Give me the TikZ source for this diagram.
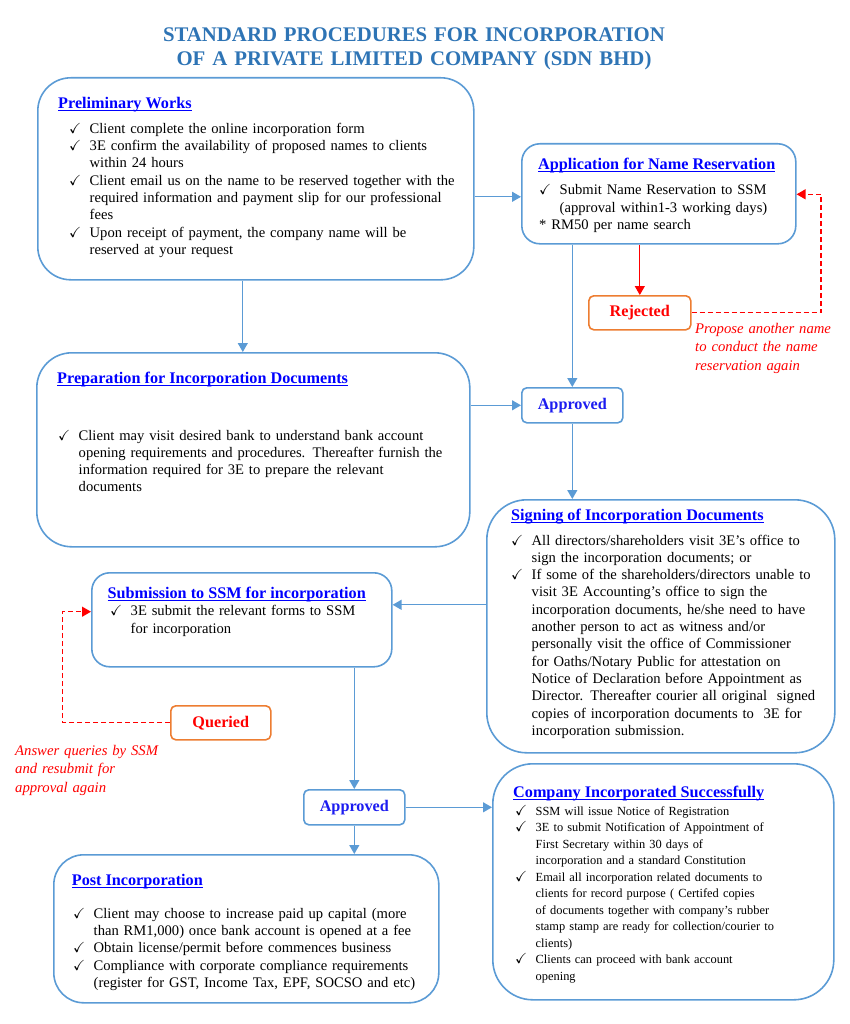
\documentclass[tikz,border=0pt]{standalone}
\usepackage{amssymb}
\usepackage{fontspec}
\setmainfont{Liberation Serif}
\usetikzlibrary{arrows.meta}

\definecolor{lineblue}{HTML}{5B9BD5}
\definecolor{titleblue}{HTML}{2E74B5}
\definecolor{linkblue}{HTML}{0000FF}
\definecolor{okblue}{HTML}{1C1CF0}
\definecolor{tagorange}{HTML}{ED7D31}
\definecolor{notered}{HTML}{FF0000}

\newcommand\chkitem[1]{\noindent\hangindent=20.5pt\hangafter=1\makebox[20.5pt][l]{\fontsize{14.6}{17}\selectfont$\checkmark$}#1\par}
\newcommand\boxhead[1]{\underline{\smash{#1}}}

\tikzset{
  stage/.style={draw=lineblue, line width=1.6pt, rounded corners=#1, anchor=north west, inner sep=0pt},
  stage/.default=30pt,
  tag/.style={draw=#1, line width=1.6pt, rounded corners=5pt, anchor=north west, inner sep=0pt,
    font=\fontsize{16.2}{19}\selectfont\bfseries},
  head/.style={anchor=base west, inner sep=0pt, text=linkblue, font=\fontsize{16.2}{19}\selectfont\bfseries},
  body/.style={anchor=base west, inner sep=0pt, align=left, text width=430pt, font=\fontsize{14.6}{17.3}\selectfont},
  note/.style={anchor=base west, inner sep=0pt, align=left, text width=200pt, text=notered,
    font=\fontsize{14.7}{18.5}\selectfont\itshape},
  flow/.style={draw=lineblue, line width=1.3pt, -{Triangle[length=9pt,width=10pt]}},
  fail/.style={draw=notered, line width=1.3pt, -{Triangle[length=9pt,width=10pt]}},
  retry/.style={fail, dash pattern=on 5pt off 3pt}
}

\begin{document}
\begin{tikzpicture}[x=1pt,y=-1pt]
\useasboundingbox (0,0) rectangle (849,1024);

\node[anchor=base, inner sep=0pt, align=center, text width=700pt, text=titleblue,
  font=\fontsize{20.8}{24}\selectfont\bfseries] (title) at (414,42)
  {STANDARD PROCEDURES FOR INCORPORATION\\OF A PRIVATE LIMITED COMPANY (SDN BHD)};

\node[stage=33pt, minimum width=436pt, minimum height=202pt] (prelim) at (37,77) {};
\node[stage=18pt, minimum width=274pt, minimum height=100pt] (app) at (521,143) {};
\node[tag=tagorange, text=notered, minimum width=102pt, minimum height=34pt] (rej) at (588,295) {Rejected};
\node[stage=35pt, minimum width=433pt, minimum height=194pt] (prep) at (36,352) {};
\node[tag=lineblue, text=okblue, minimum width=101pt, minimum height=35pt] (appr1) at (521,387) {Approved};
\node[stage=40pt, minimum width=348pt, minimum height=253pt] (sign) at (486,499) {};
\node[stage=18pt, minimum width=300pt, minimum height=94pt] (sub) at (91,572) {};
\node[tag=tagorange, text=notered, minimum width=100pt, minimum height=34pt] (que) at (170,705) {Queried};
\node[tag=lineblue, text=okblue, minimum width=101pt, minimum height=35pt] (appr2) at (303,789) {Approved};
\node[stage=40pt, minimum width=341pt, minimum height=236pt] (comp) at (492,763) {};
\node[stage=30pt, minimum width=385pt, minimum height=148pt] (post) at (53,854) {};

\node[head] (prelimhd) at (58,108.3) {\boxhead{Preliminary Works}};
\node[body] (prelimtxt) at (69,133.3) {\chkitem{Client complete the online incorporation form}
  \chkitem{3E confirm the availability of proposed names to clients\newline within 24 hours}
  \chkitem{Client email us on the name to be reserved together with the\newline required information and payment slip for our professional\newline fees}
  \chkitem{Upon receipt of payment, the company name will be\newline reserved at your request}};

\node[head] (apphd) at (538,169.3) {\boxhead{Application for Name Reservation}};
\node[body] (apptxt) at (539,195) {\chkitem{Submit Name Reservation to SSM\newline (approval within1-3 working days)}
  \noindent * RM50 per name search\par};
\node[note] (rejnote) at (695,333.3) {Propose another name\\to conduct the name\\reservation again};

\node[head] (prephd) at (57,383) {\boxhead{Preparation for Incorporation Documents}};
\node[body] (preptxt) at (58,440) {\chkitem{Client may visit desired bank to understand bank account\newline opening requirements and procedures. Thereafter furnish the\newline information required for 3E to prepare the relevant\newline documents}};

\node[head] (signhd) at (511,520) {\boxhead{Signing of Incorporation Documents}};
\node[body] (signtxt) at (511,545) {\chkitem{All directors/shareholders visit 3E's office to\newline sign the incorporation documents; or}
  \chkitem{If some of the shareholders/directors unable to\newline visit 3E Accounting’s office to sign the\newline incorporation documents, he/she need to have\newline another person to act as witness and/or\newline personally visit the office of Commissioner\newline for Oaths/Notary Public for attestation on\newline Notice of Declaration before Appointment as\newline Director. Thereafter courier all original\ \ signed\newline copies of incorporation documents to\ \ 3E for\newline incorporation submission.}};

\node[head] (subhd) at (107.3,598.3) {\boxhead{Submission to SSM for incorporation}};
\node[body] (subtxt) at (110,615.7) {\chkitem{3E submit the relevant forms to SSM\newline for incorporation}};
\node[note] (quenote) at (15,755) {Answer queries by SSM\\and resubmit for\\approval again};

\node[head] (comphd) at (513,797) {\boxhead{Company Incorporated Successfully}};
\node[body, font=\fontsize{12.4}{16.5}\selectfont] (comptxt) at (515,815) {\chkitem{SSM will issue Notice of Registration}
  \chkitem{3E to submit Notification of Appointment of\newline First Secretary within 30 days of\newline incorporation and a standard Constitution}
  \chkitem{Email all incorporation related documents to\newline clients for record purpose ( Certifed copies\newline of documents together with company’s rubber\newline stamp stamp are ready for collection/courier to\newline clients)}
  \chkitem{Clients can proceed with bank account\newline opening}};

\node[head] (posthd) at (71.7,885) {\boxhead{Post Incorporation}};
\node[body] (posttxt) at (73,918.3) {\chkitem{Client may choose to increase paid up capital (more\newline than RM1,000) once bank account is opened at a fee}
  \chkitem{Obtain license/permit before commences business}
  \chkitem{Compliance with corporate compliance requirements\newline (register for GST, Income Tax, EPF, SOCSO and etc)}};

\coordinate (rejturn) at (821,194.3);
\coordinate (queturn) at (62.7,611.7);

\draw[flow] ([xshift=-13pt]prelim.south) -- ([xshift=-13pt]prelim.south |- prep.north);
\draw[flow] ([yshift=-3pt]app.west -| prelim.east) -- ([yshift=-3pt]app.west);
\draw[flow] (app.south -| appr1.north) -- (appr1.north);
\draw[fail] (app.south -| rej.north) -- (rej.north);
\draw[retry] (rej.east) -| (rejturn) -- (rejturn -| app.east);
\draw[flow] (appr1.west -| prep.east) -- (appr1.west);
\draw[flow] (appr1.south) -- (appr1.south |- sign.north);
\draw[flow] ([yshift=15pt]sub.east -| sign.west) -- ([yshift=15pt]sub.east);
\draw[flow] (sub.south -| appr2.north) -- (appr2.north);
\draw[retry] (que.west) -| (queturn) -- (queturn -| sub.west);
\draw[flow] (appr2.east) -- (appr2.east -| comp.west);
\draw[flow] (appr2.south) -- (appr2.south |- post.north);
\end{tikzpicture}
\end{document}
